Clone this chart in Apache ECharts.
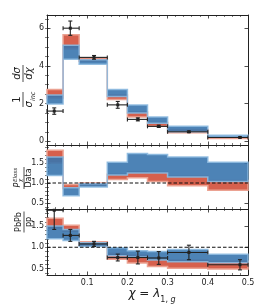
<!DOCTYPE html>
<html><head><meta charset="utf-8">
<script src="https://cdn.jsdelivr.net/npm/echarts@6/dist/echarts.min.js"></script>
<style>html,body{margin:0;padding:0;background:#fff}#c{width:262px;height:306px}</style>
</head><body><div id="c"></div>
<script>
// ---- data ----
const binEdges = [0, 0.04, 0.08, 0.15, 0.2, 0.25, 0.3, 0.4, 0.5];
const pointX = [0.018, 0.058, 0.117, 0.176, 0.226, 0.278, 0.353, 0.48];

// top panel: normalised distribution
const distRedLo  = [2.30, 4.90, 4.25, 2.22, 1.29, 0.80, 0.45, 0.14];
const distRedHi  = [2.75, 5.65, 4.42, 2.45, 1.55, 1.00, 0.62, 0.25];
const distBlueLo = [1.97, 4.35, 4.08, 2.38, 1.50, 0.96, 0.50, 0.22];
const distBlueHi = [2.45, 5.10, 4.32, 2.75, 1.92, 1.29, 0.80, 0.32];
const distDataY   = [1.60, 6.00, 4.45, 1.93, 1.16, 0.79, 0.50, 0.20];
const distDataErr = [0.17, 0.38, 0.10, 0.18, 0.08, 0.06, 0.04, 0.03];

// middle panel: model / data
const mdRedLo  = [1.50, 0.86, 0.93, 1.09, 1.13, 1.04, 0.93, 0.82];
const mdRedHi  = [1.82, 0.96, 1.00, 1.22, 1.28, 1.27, 1.17, 1.06];
const mdBlueLo = [1.19, 0.68, 0.90, 1.20, 1.25, 1.25, 1.15, 1.04];
const mdBlueHi = [1.65, 0.88, 0.98, 1.52, 1.74, 1.71, 1.65, 1.52];

// bottom panel: PbPb / pp
const aaRedLo  = [1.45, 1.38, 1.05, 0.72, 0.63, 0.55, 0.51, 0.49];
const aaRedHi  = [1.68, 1.52, 1.13, 0.86, 0.82, 0.75, 0.70, 0.67];
const aaBlueLo = [1.20, 1.16, 1.02, 0.80, 0.77, 0.70, 0.66, 0.64];
const aaBlueHi = [1.50, 1.42, 1.11, 0.99, 0.92, 0.90, 0.95, 0.84];
const aaDataY   = [1.87, 1.28, 1.08, 0.76, 0.76, 0.75, 0.88, 0.59];
const aaDataErr = [0.45, 0.14, 0.06, 0.08, 0.15, 0.15, 0.17, 0.12];

// ticks
const xTickLabels = [0.1, 0.2, 0.3, 0.4, 0.5];
const distYTicks = [0, 2, 4, 6];
const ratioYTicks = [0.5, 1.0, 1.5];

// ---- styling ----
const FONT = 'DejaVu Sans';
const INK = '#222';
const RED = '#d6604d', RED_EDGE = '#eba292';
const BLUE = '#3a76ae', BLUE_EDGE = '#8cb9df';

function range(a, b, s) { const r = []; for (let v = a; v <= b + 1e-9; v += s) r.push(+v.toFixed(4)); return r; }
const distYMinor = range(0, 6.5, 0.5);
const ratioYMinor = range(0.4, 1.9, 0.1);

const grids = [
  {left: 47, right: 14, top: 15, height: 130},
  {left: 47, right: 14, top: 145, height: 64},
  {left: 47, right: 14, top: 209, height: 66}
];
const yRanges = [[-0.2, 6.7], [0.35, 1.95], [0.35, 1.9]];

const tickLine = {color: INK, width: 0.8};
function xAxes(g, showLabels) {
  const base = {type: 'value', gridIndex: g, min: 0, max: 0.5, interval: 0.1,
    splitLine: {show: false},
    axisLine: {show: true, onZero: false, lineStyle: {color: INK, width: 1}},
    axisTick: {show: true, inside: true, length: 3.5, lineStyle: tickLine},
    minorTick: {show: true, splitNumber: 5, length: 2, lineStyle: {color: INK, width: 0.6}}};
  return [
    Object.assign({}, base, {position: 'bottom', axisLabel: {show: showLabels, customValues: xTickLabels,
      fontSize: 8, fontFamily: FONT, color: INK, margin: 4, formatter: v => v.toFixed(1)}}),
    Object.assign({}, base, {position: 'top', axisLabel: {show: false}})
  ];
}
function yAxes(g, majors, minors, fmt) {
  const [mn, mx] = yRanges[g];
  const base = {type: 'value', gridIndex: g, min: mn, max: mx, splitLine: {show: false}};
  const line = {show: true, onZero: false, lineStyle: {color: INK, width: 1}};
  const majT = {show: true, inside: true, length: 3.5, customValues: majors, lineStyle: tickLine};
  const minT = {show: true, inside: true, length: 2, customValues: minors, lineStyle: {color: INK, width: 0.6}};
  return [
    Object.assign({}, base, {position: 'left', axisLine: line, axisTick: majT,
      axisLabel: {show: true, customValues: majors, formatter: fmt, fontSize: 8, fontFamily: FONT, color: INK, margin: 3}}),
    Object.assign({}, base, {position: 'left', axisLine: {show: false}, axisTick: minT, axisLabel: {show: false}}),
    Object.assign({}, base, {position: 'right', axisLine: line, axisTick: majT, axisLabel: {show: false}}),
    Object.assign({}, base, {position: 'right', axisLine: {show: false}, axisTick: minT, axisLabel: {show: false}})
  ];
}

function band(g, lo, hi, fill, edge, opacity, z) {
  return {type: 'custom', xAxisIndex: g * 2, yAxisIndex: g * 4, data: [[0]], silent: true, z: z,
    renderItem: (params, api) => {
      const pts = [];
      for (let i = 0; i < lo.length; i++) {
        pts.push(api.coord([binEdges[i], hi[i]]));
        pts.push(api.coord([binEdges[i + 1], hi[i]]));
      }
      for (let i = lo.length - 1; i >= 0; i--) {
        pts.push(api.coord([binEdges[i + 1], lo[i]]));
        pts.push(api.coord([binEdges[i], lo[i]]));
      }
      return {type: 'polygon', shape: {points: pts},
        style: {fill: fill, stroke: edge, lineWidth: 1.5, opacity: opacity, lineJoin: 'miter'}};
    }};
}

function points(g, ys, errs) {
  const ymax = yRanges[g][1];
  const data = pointX.map((x, i) => [x, ys[i], errs[i], binEdges[i], binEdges[i + 1]]);
  return {type: 'custom', xAxisIndex: g * 2, yAxisIndex: g * 4, data: data, silent: true, z: 10,
    renderItem: (params, api) => {
      const x = api.value(0), y = api.value(1), e = api.value(2), x0 = api.value(3), x1 = api.value(4);
      const p = api.coord([x, y]), pl = api.coord([x0, y]), pr = api.coord([x1, y]);
      const clipped = y + e > ymax;
      const pt = api.coord([x, Math.min(y + e, ymax)]), pb = api.coord([x, y - e]);
      const c = 2;
      const st = {stroke: INK, lineWidth: 1.1};
      const kids = [
        {type: 'line', shape: {x1: pl[0], y1: pl[1], x2: pr[0], y2: pr[1]}, style: st},
        {type: 'line', shape: {x1: pl[0], y1: pl[1] - c, x2: pl[0], y2: pl[1] + c}, style: st},
        {type: 'line', shape: {x1: pr[0], y1: pr[1] - c, x2: pr[0], y2: pr[1] + c}, style: st},
        {type: 'line', shape: {x1: pt[0], y1: pt[1], x2: pb[0], y2: pb[1]}, style: st},
        {type: 'line', shape: {x1: pb[0] - c, y1: pb[1], x2: pb[0] + c, y2: pb[1]}, style: st},
        {type: 'rect', shape: {x: p[0] - 1.5, y: p[1] - 1.5, width: 3, height: 3}, style: {fill: INK}}
      ];
      if (!clipped) kids.push({type: 'line', shape: {x1: pt[0] - c, y1: pt[1], x2: pt[0] + c, y2: pt[1]}, style: st});
      return {type: 'group', children: kids};
    }};
}

function unityLine(g) {
  return {type: 'line', xAxisIndex: g * 2, yAxisIndex: g * 4, data: [[0, 1], [0.5, 1]], symbol: 'none',
    silent: true, z: 5, lineStyle: {color: '#111', width: 1.1, type: [3.5, 2]}};
}

const txt = (x, y, text, size, va, extra) => ({type: 'text', x: x, y: y, style: Object.assign({
  text: text, fontSize: size, fontFamily: FONT, fill: INK, align: 'center', verticalAlign: va}, extra || {})});
const bar = (a, b) => ({type: 'line', shape: {x1: a, y1: 0, x2: b, y2: 0}, style: {stroke: INK, lineWidth: 0.8}});

const graphic = [
  {type: 'group', x: 23, y: 86, rotation: Math.PI / 2, children: [
    txt(-13.5, -1, '1', 10, 'bottom'),
    bar(-21, -6),
    {type: 'text', x: -13.5, y: 1, style: {text: '{a|σ}{b|inc}', align: 'center', verticalAlign: 'top',
      rich: {a: {fontSize: 10, fontFamily: FONT, fontStyle: 'italic', fill: INK, verticalAlign: 'top', lineHeight: 13},
             b: {fontSize: 6.5, fontFamily: FONT, fontStyle: 'italic', fill: INK, verticalAlign: 'bottom', lineHeight: 13}}}},
    txt(12.5, -1, 'dσ', 10, 'bottom', {fontStyle: 'italic'}),
    bar(4, 21),
    txt(12.5, 1, 'dχ', 10, 'top', {fontStyle: 'italic'})
  ]},
  {type: 'group', x: 24, y: 178, rotation: Math.PI / 2, children: [
    txt(-7, -2, 'P', 8, 'bottom', {fontStyle: 'italic'}),
    txt(-4, -5.5, 'Eloss', 5.5, 'bottom', {fontStyle: 'italic', align: 'left'}),
    txt(-4, -0.8, 'χ', 5.5, 'bottom', {fontStyle: 'italic', align: 'left'}),
    bar(-11, 11),
    txt(0, 1, 'Data', 8, 'top')
  ]},
  {type: 'group', x: 24, y: 222, rotation: Math.PI / 2, children: [
    txt(0, -1, 'PbPb', 8, 'bottom'),
    bar(-10.5, 10.5),
    txt(0, 1, 'pp', 8, 'top')
  ]},
  {type: 'text', x: 152, y: 296, style: {text: '{i|χ}{r| = }{i|λ}{s|1, }{si|g}', align: 'center', verticalAlign: 'middle',
    rich: {i: {fontSize: 12, fontFamily: FONT, fontStyle: 'italic', fill: INK, verticalAlign: 'top', lineHeight: 16},
           r: {fontSize: 12, fontFamily: FONT, fill: INK, verticalAlign: 'top', lineHeight: 16},
           s: {fontSize: 8, fontFamily: FONT, fill: INK, verticalAlign: 'bottom', lineHeight: 16},
           si: {fontSize: 8, fontFamily: FONT, fontStyle: 'italic', fill: INK, verticalAlign: 'bottom', lineHeight: 16}}}}
];

const option = {
  animation: false,
  backgroundColor: '#fff',
  grid: grids,
  xAxis: [].concat(xAxes(0, false), xAxes(1, false), xAxes(2, true)),
  yAxis: [].concat(yAxes(0, distYTicks, distYMinor, v => String(v)),
                   yAxes(1, ratioYTicks, ratioYMinor, v => v.toFixed(1)),
                   yAxes(2, ratioYTicks, ratioYMinor, v => v.toFixed(1))),
  graphic: graphic,
  series: [
    band(0, distRedLo, distRedHi, RED, RED_EDGE, 1, 1),
    band(0, distBlueLo, distBlueHi, BLUE, BLUE_EDGE, 0.9, 2),
    points(0, distDataY, distDataErr),
    band(1, mdRedLo, mdRedHi, RED, RED_EDGE, 1, 1),
    band(1, mdBlueLo, mdBlueHi, BLUE, BLUE_EDGE, 0.9, 2),
    unityLine(1),
    band(2, aaRedLo, aaRedHi, RED, RED_EDGE, 1, 1),
    band(2, aaBlueLo, aaBlueHi, BLUE, BLUE_EDGE, 0.9, 2),
    unityLine(2),
    points(2, aaDataY, aaDataErr)
  ]
};
const chart = echarts.init(document.getElementById('c'));
chart.setOption(option);
</script></body></html>
